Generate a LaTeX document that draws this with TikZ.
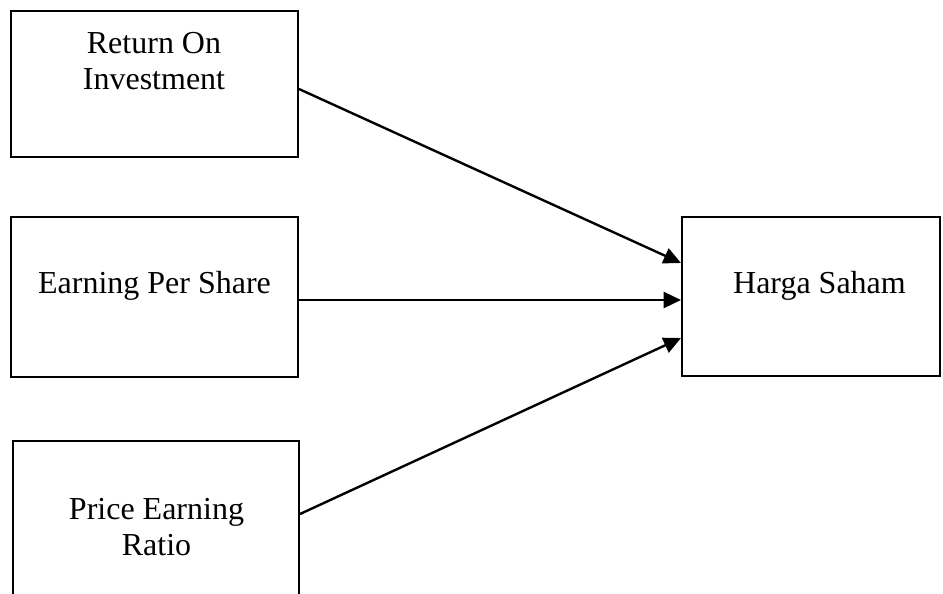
\documentclass[tikz,border=0pt]{standalone}
\usepackage{fontspec}
\setmainfont{Liberation Serif}
\usetikzlibrary{calc,arrows.meta}

\tikzset{
  varbox/.style={draw, line width=1.5pt, inner sep=0pt},
  lbl/.style={inner sep=0pt, align=center, font=\fontsize{24}{27}\selectfont},
  link/.style={line width=1.8pt, -{Triangle[length=13pt,width=12pt]}}
}

\begin{document}
\begin{tikzpicture}[x=0.75pt, y=-0.75pt]
\clip (0,0) rectangle (943,593);

    \node[varbox, minimum width=215.25pt, minimum height=109.5pt] (roi) at (154.5,84) {};
    \node[varbox, minimum width=215.25pt, minimum height=120pt] (eps) at (154.5,297) {};
    \node[varbox, minimum width=214.5pt, minimum height=120pt] (per) at (156,521) {};
    \node[varbox, minimum width=193.5pt, minimum height=119.25pt] (harga) at (811,296.5) {};

    \node[lbl] (roiText) at (154,61) {Return On\\Investment};
    \node[lbl, anchor=base] (epsText) at (154.5,293) {Earning Per Share};
    \node[lbl] (perText) at (156.5,527) {Price Earning\\Ratio};
    \node[lbl, anchor=base] (hargaText) at (819.5,293) {Harga Saham};

    \draw[link] ($(roi.east)+(0,5)$) -- ($(harga.west)+(0,-33.5)$);
    \draw[link] ($(eps.east)+(0,3)$) -- ($(harga.west)+(0,3.5)$);
    \draw[link] ($(per.east)+(0,-7)$) -- ($(harga.west)+(0,41.5)$);
\end{tikzpicture}
\end{document}
